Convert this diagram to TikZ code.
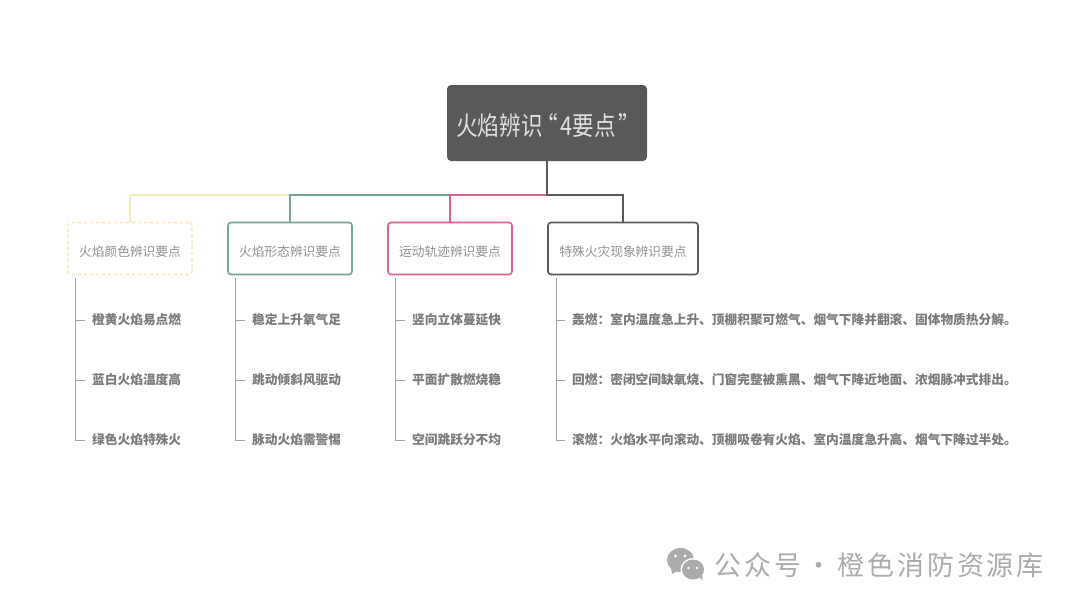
\documentclass[tikz,border=0pt]{standalone}
\usepackage{fontspec}
\setmainfont{Noto Sans CJK SC}
\usetikzlibrary{positioning}
\definecolor{rootgray}{HTML}{595959}
\definecolor{flameyellow}{HTML}{F7EBBD}
\definecolor{flamegreen}{HTML}{75A595}
\definecolor{flamepink}{HTML}{DB6286}
\definecolor{linegray}{HTML}{A2A2A2}
\definecolor{labelgray}{HTML}{8F8F8F}
\definecolor{itemgray}{HTML}{7A7A7A}
\definecolor{markgray}{HTML}{ABABAB}

\begin{document}
\begin{tikzpicture}
    [x=1pt, y=-1pt,
    node distance =60pt,
    branch/.style={draw, line width=1.6pt, rounded corners=3pt, minimum height=52pt, minimum width=124pt, inner sep=0pt, text height=15pt, text depth=0pt, text=labelgray, font=\fontsize{12.7}{15}\selectfont},
    item/.style={anchor=west, inner xsep=7pt, inner ysep=0pt, text=itemgray, font=\fontsize{12.7}{15}\selectfont\bfseries},
    stem/.style={line width=1pt, draw=linegray},
    bus/.style={line width=2pt}]
    \useasboundingbox (0,0) rectangle (1080,608);
    \node[fill=rootgray, rounded corners=4pt, minimum width=200pt, minimum height=76pt, inner sep=0pt, text height=24pt, text depth=0pt, text=white!88!black, font=\fontsize{26}{30}\selectfont] (root) at (547,123) {\scalebox{0.83}[1]{火焰辨识\hspace{-7pt}“\hspace{3pt}4要点\hspace{3pt}”\hspace{-15pt}}\hspace{10pt}\null};
    \coordinate (junction) at (547,195);

    % branches
    \node[branch, draw=flameyellow, dashed] (colour) at (130,248.5) {火焰颜色辨识要点};
    \node[branch, draw=flamegreen, right of = colour, node distance =160pt] (shape) {火焰形态辨识要点};
    \node[branch, draw=flamepink, right of = shape, node distance =160pt] (track) {运动轨迹辨识要点};
    \node[branch, draw=rootgray, right of = track, node distance =173pt, minimum width=150pt] (special) {特殊火灾现象辨识要点};

    \draw[bus, draw=flameyellow] (colour.north) |- (shape.north |- junction);
    \draw[bus, draw=flamegreen] (shape.north) |- (track.north |- junction);
    \draw[bus, draw=flamepink] (track.north) |- (junction);
    \draw[bus, draw=rootgray] (special.north) |- (junction);
    \draw[bus, draw=rootgray] (root.south) -- (junction);

    % items
    \node[item] (c1) at (85,320) {橙黄火焰易点燃};
    \node[item, below of = c1] (c2) {蓝白火焰温度高};
    \node[item, below of = c2] (c3) {绿色火焰特殊火};
    \node[item] (s1) at (245,320) {稳定上升氧气足};
    \node[item, below of = s1] (s2) {跳动倾斜风驱动};
    \node[item, below of = s2] (s3) {脉动火焰需警惕};
    \node[item] (t1) at (405,320) {竖向立体蔓延快};
    \node[item, below of = t1] (t2) {平面扩散燃烧稳};
    \node[item, below of = t2] (t3) {空间跳跃分不均};
    \node[item] (p1) at (565,320) {轰燃：室内温度急上升、顶棚积聚可燃气、烟气下降并翻滚、固体物质热分解。};
    \node[item, below of = p1] (p2) {回燃：密闭空间缺氧烧、门窗完整被熏黑、烟气下降近地面、浓烟脉冲式排出。};
    \node[item, below of = p2] (p3) {滚燃：火焰水平向滚动、顶棚吸卷有火焰、室内温度急升高、烟气下降过半处。};

    \coordinate (cstem) at (75,278);
    \coordinate (sstem) at (235,278);
    \coordinate (tstem) at (395,278);
    \coordinate (pstem) at (556,278);
    \draw[stem] (cstem) |- (c3.west);
    \draw[stem] (cstem |- c1.west) -- (c1.west);
    \draw[stem] (cstem |- c2.west) -- (c2.west);
    \draw[stem] (sstem) |- (s3.west);
    \draw[stem] (sstem |- s1.west) -- (s1.west);
    \draw[stem] (sstem |- s2.west) -- (s2.west);
    \draw[stem] (tstem) |- (t3.west);
    \draw[stem] (tstem |- t1.west) -- (t1.west);
    \draw[stem] (tstem |- t2.west) -- (t2.west);
    \draw[stem] (pstem) |- (p3.west);
    \draw[stem] (pstem |- p1.west) -- (p1.west);
    \draw[stem] (pstem |- p2.west) -- (p2.west);

    % watermark
    \fill[markgray] (680.5,560) ellipse (13.5pt and 12pt);
    \fill[markgray] (671,568) -- (672,574) -- (679,570) -- cycle;
    \fill[white] (693,569.5) ellipse (12.5pt and 11.5pt);
    \fill[markgray] (693,569.5) ellipse (11pt and 10pt);
    \fill[markgray] (698,576) -- (702.5,580.5) -- (702,572) -- cycle;
    \fill[white] (675.5,556) circle (1.7pt) (685,556) circle (1.7pt) (688.5,568) circle (1.4pt) (697,568) circle (1.4pt);
    \node[anchor=west, inner sep=0pt, text=markgray, font=\fontsize{27}{32}\selectfont] (mark) at (714,565) {\addfontfeature{LetterSpace=11}公众号\hspace{4pt}·\hspace{5pt}橙色消防资源库};
\end{tikzpicture}
\end{document}
